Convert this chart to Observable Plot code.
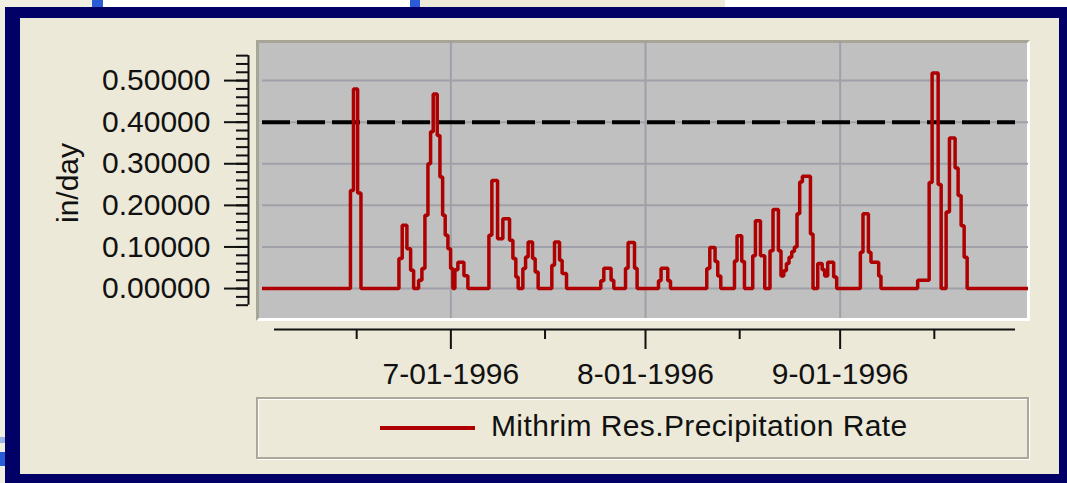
<!DOCTYPE html>
<html>
<head>
<meta charset="utf-8">
<script src="https://cdn.jsdelivr.net/npm/d3@7"></script>
<script src="https://cdn.jsdelivr.net/npm/@observablehq/plot@0.6"></script>
<style>
  html, body { margin: 0; padding: 0; }
  body { width: 1067px; height: 483px; position: relative; overflow: hidden; background: #ffffff;
         font-family: "Liberation Sans", Arial, sans-serif; }
  .abs { position: absolute; }
</style>
</head>
<body>
<!-- window strip above the frame -->
<div class="abs" style="left:0;top:0;width:92px;height:7px;background:#F1EFE2"></div>
<div class="abs" style="left:92px;top:0;width:11px;height:7px;background:#2B5CD8"></div>
<div class="abs" style="left:103px;top:0;width:307px;height:7px;background:#ffffff"></div>
<div class="abs" style="left:410px;top:0;width:10px;height:7px;background:#2B5CD8"></div>
<div class="abs" style="left:420px;top:0;width:305px;height:7px;background:#ECE9D8"></div>
<div class="abs" style="left:0;top:7px;width:5px;height:476px;background:#F1EFE2"></div>
<div class="abs" style="left:0;top:437px;width:5px;height:6px;background:#9DB4E8"></div>
<div class="abs" style="left:0;top:452px;width:5px;height:14px;background:#2B5CD8"></div>
<!-- navy window frame -->
<div class="abs" style="left:5px;top:7px;width:1062px;height:476px;background:#000066"></div>
<div class="abs" style="left:20px;top:18px;width:1039px;height:456px;background:#ECE9D8"></div>
<!-- plot area background -->
<div class="abs" style="left:256px;top:40px;width:768px;height:275px;background:#C0C0C0;
     border-top:3px solid #A7A595;border-left:3px solid #A7A595;border-right:3px solid #fff;border-bottom:3px solid #fff"></div>
<div id="chart" class="abs" style="left:0;top:0"></div>
<div class="abs" style="left:68px;top:183px;transform:translate(-50%,-50%) rotate(-90deg);font-size:30px;line-height:30px;color:#111;white-space:nowrap">in/day</div>
<!-- legend -->
<div class="abs" style="left:256px;top:397px;width:769px;height:58px;border:2px solid #ACA899;box-shadow:inset 1px 1px 0 #fff, 1px 1px 0 #fff"></div>
<div class="abs" style="left:380px;top:426px;width:95px;height:4px;background:#AE0000"></div>
<div id="legendText" class="abs" style="left:491px;top:410px;font-size:30px;line-height:32px;letter-spacing:0.38px;color:#111;white-space:nowrap"></div>

<script>
// ---- data ----
const startDate = "1996-06-01";
const endDate = "1996-10-01";
// [days after 1996-06-01 00:00, precipitation rate in/day] — value holds until next point
const rateSteps = [
  [0, 0], [14.01, 0.236], [14.49, 0.48], [15.15, 0.23], [15.68, 0],
  [21.73, 0.072], [22.25, 0.152], [23.0, 0.096], [23.59, 0.044], [24.07, 0],
  [24.86, 0.02], [25.39, 0.048], [25.87, 0.176], [26.35, 0.30], [26.77, 0.377], [27.19, 0.468],
  [27.83, 0.368], [28.26, 0.268], [28.69, 0.176], [29.10, 0.128], [29.53, 0.096], [29.96, 0.048], [30.32, 0],
  [30.64, 0.045], [31.12, 0.063], [32.08, 0.031], [32.71, 0],
  [36.06, 0.128], [36.53, 0.26], [37.44, 0.12], [38.28, 0.168], [39.35, 0.116], [39.88, 0.072], [40.35, 0.028], [40.72, 0],
  [41.47, 0.048], [41.90, 0.076], [42.31, 0.112], [43.01, 0.072], [43.43, 0.04], [43.90, 0],
  [46.08, 0.056], [46.51, 0.112], [47.31, 0.068], [47.72, 0.036], [48.42, 0],
  [53.88, 0.019], [54.36, 0.049], [55.52, 0.02], [55.95, 0],
  [57.82, 0.049], [58.23, 0.111], [59.25, 0.049], [59.66, 0],
  [63.07, 0.019], [63.48, 0.049], [64.55, 0.019], [64.98, 0],
  [70.76, 0.048], [71.24, 0.099], [72.08, 0.065], [72.51, 0.03], [72.99, 0],
  [75.17, 0.066], [75.58, 0.127], [76.33, 0.065], [76.76, 0],
  [78.08, 0.079], [78.51, 0.163], [79.31, 0.079], [79.99, 0],
  [80.83, 0.091], [81.31, 0.19], [82.17, 0.091], [82.58, 0.03], [83.02, 0.043], [83.44, 0.06], [83.86, 0.075],
  [84.29, 0.089], [84.72, 0.1], [85.13, 0.18], [85.56, 0.256], [85.99, 0.27], [87.27, 0.131], [87.68, 0],
  [88.43, 0.06], [89.14, 0.045], [89.54, 0.03], [90.02, 0.063], [90.97, 0.028], [91.45, 0],
  [95.22, 0.087], [95.64, 0.18], [96.50, 0.087], [96.91, 0.063], [98.14, 0.03], [98.50, 0],
  [104.35, 0.02], [106.18, 0.255], [106.65, 0.518], [107.61, 0.25], [108.09, 0],
  [108.88, 0.184], [109.41, 0.362], [110.31, 0.29], [110.79, 0.224], [111.27, 0.151], [111.75, 0.075], [112.23, 0],
  [122, 0]
];
const threshold = 0.4;
const yMajorTicks = [0, 0.1, 0.2, 0.3, 0.4, 0.5];
const yMinorTicks = d3.range(-2, 29).map(i => i / 50);   // every 0.02 from -0.04 to 0.56
const monthTicks = ["1996-07-01", "1996-08-01", "1996-09-01"];
const midMonthTicks = ["1996-06-16", "1996-07-16", "1996-08-16", "1996-09-16"];
const yDomain = [-0.072, 0.594];
const seriesName = "Mithrim Res.Precipitation Rate";

// ---- build ----
const t0 = new Date(startDate + "T00:00:00Z").getTime();
const series = rateSteps.map(([d, v]) => ({date: new Date(t0 + d * 86400000), rate: v}));
const toDate = s => new Date(s + "T00:00:00Z");
const ink = "#111";
document.getElementById("legendText").textContent = seriesName;

const chart = Plot.plot({
  width: 1067,
  height: 400,
  marginLeft: 262,
  marginRight: 39,
  marginTop: 41,
  marginBottom: 82,
  style: {background: "transparent", fontFamily: "'Liberation Sans', Arial, sans-serif", fontSize: "30px", color: ink},
  x: {type: "utc", domain: [toDate(startDate), toDate(endDate)], label: null},
  y: {domain: yDomain, label: null},
  marks: [
    Plot.gridY(yMajorTicks, {stroke: "#A0A0A8", strokeOpacity: 1, strokeWidth: 2}),
    Plot.gridX(monthTicks.map(toDate), {stroke: "#A0A0A8", strokeOpacity: 1, strokeWidth: 2}),
    Plot.ruleY([threshold], {stroke: "#000", strokeWidth: 4, strokeDasharray: "28,7", insetRight: 13}),
    Plot.line(series, {x: "date", y: "rate", curve: "step-after", stroke: "#AE0000", strokeWidth: 3.5, strokeLinejoin: "miter", clip: true}),
    // y axis
    Plot.ruleX([toDate(startDate)], {y1: yMinorTicks[0], y2: yMinorTicks[yMinorTicks.length - 1], dx: -14, stroke: ink, strokeWidth: 2}),
    Plot.axisY(yMajorTicks, {tickSize: 24, tickPadding: 14, dx: -14, strokeWidth: 2, stroke: ink,
      tickFormat: d3.format(".5f"), label: null, fill: ink}),
    Plot.axisY(yMinorTicks, {tickSize: 12, dx: -14, strokeWidth: 2, stroke: ink, tickFormat: () => "", label: null}),
    // x axis
    Plot.ruleY([yDomain[0]], {dy: 11, insetLeft: 12, insetRight: 13, stroke: ink, strokeWidth: 2}),
    Plot.axisX(monthTicks.map(toDate), {tickSize: 20, tickPadding: 13, dy: 11, strokeWidth: 2, stroke: ink,
      tickFormat: d3.utcFormat("%-m-%d-%Y"), label: null, fill: ink}),
    Plot.axisX(midMonthTicks.map(toDate), {tickSize: 10, dy: 11, strokeWidth: 2, stroke: ink, tickFormat: () => "", label: null})
  ]
});
document.getElementById("chart").appendChild(chart);
</script>
</body>
</html>
